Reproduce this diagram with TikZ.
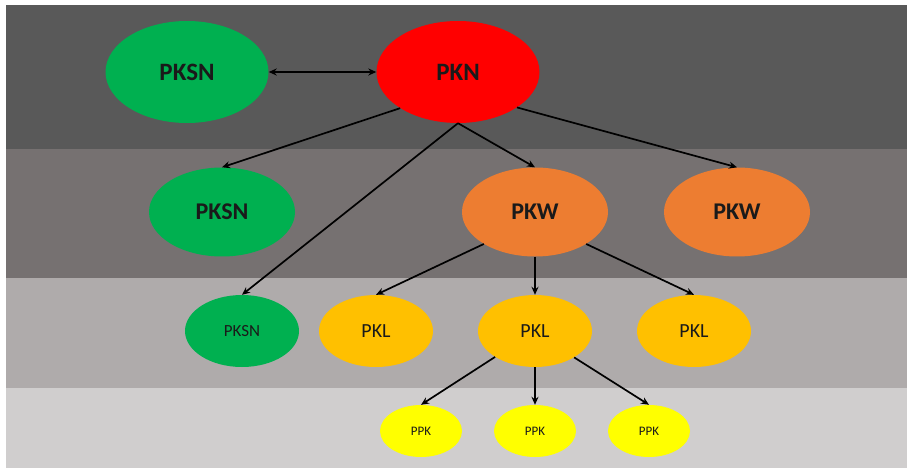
\documentclass[tikz,border=0pt]{standalone}
\usepackage{fontspec}
\setmainfont{Carlito}
\usetikzlibrary{shapes.geometric,arrows.meta}
\definecolor{bandA}{HTML}{595959}
\definecolor{bandB}{HTML}{767171}
\definecolor{bandC}{HTML}{AFABAB}
\definecolor{bandD}{HTML}{D0CECE}
\definecolor{cgreen}{HTML}{00B050}
\definecolor{cred}{HTML}{FF0000}
\definecolor{corange}{HTML}{ED7D31}
\definecolor{cgold}{HTML}{FFC000}
\definecolor{cyellow}{HTML}{FFFF00}
\definecolor{ctext}{HTML}{1A1A1A}
\tikzset{
  oval/.style={ellipse, inner sep=0pt, text=ctext, font=\bfseries},
  big/.style={oval, minimum width=163pt, minimum height=102pt, font=\bfseries\fontsize{25}{28}\selectfont},
  mid/.style={oval, minimum width=146pt, minimum height=89pt, font=\bfseries\fontsize{24}{27}\selectfont},
  sml/.style={oval, minimum width=114pt, minimum height=72pt, font=\fontsize{20}{23}\selectfont},
  tiny/.style={oval, minimum width=82pt, minimum height=52pt, font=\fontsize{13}{15}\selectfont},
  tip/.style={Stealth[length=8pt,width=7pt]},
  conn/.style={draw=black, line width=1.7pt, -{Stealth[length=8pt,width=7pt]}},
  biconn/.style={draw=black, line width=1.7pt, {Stealth[length=8pt,width=7pt]}-{Stealth[length=8pt,width=7pt]}},
}
\begin{document}
\begin{tikzpicture}[x=1pt,y=-1pt]
\useasboundingbox[fill=white] (0,0) rectangle (907,470);
\fill[bandA] (6,5) rectangle (907,149);
\fill[bandB] (6,149) rectangle (907,278);
\fill[bandC] (6,278) rectangle (907,388);
\fill[bandD] (6,388) rectangle (907,468);

\node[big, fill=cgreen] (pksnA) at (187,72) {PKSN};
\node[big, fill=cred] (pkn) at (458,72) {PKN};

\node[mid, fill=cgreen] (pksnB) at (222,212) {PKSN};
\node[mid, fill=corange] (pkwA) at (535,212) {PKW};
\node[mid, fill=corange] (pkwB) at (737,212) {PKW};

\node[sml, fill=cgreen, font=\fontsize{17}{20}\selectfont] (pksnC) at (242,331) {PKSN};
\node[sml, fill=cgold] (pklA) at (376,331) {PKL};
\node[sml, fill=cgold] (pklB) at (535,331) {PKL};
\node[sml, fill=cgold] (pklC) at (694,331) {PKL};

\node[tiny, fill=cyellow] (ppkA) at (421,431) {PPK};
\node[tiny, fill=cyellow] (ppkB) at (535,431) {PPK};
\node[tiny, fill=cyellow] (ppkC) at (649,431) {PPK};

\draw[biconn] (pksnA) -- (pkn);
\draw[conn] (pkn.212) -- (pksnB.north);
\draw[conn] (pkn.south) -- (pksnC.north);
\draw[conn] (pkn.south) -- (pkwA.north);
\draw[conn] (pkn.329) -- (pkwB.north);
\draw[conn] (pkwA.212) -- (pklA.north);
\draw[conn] (pkwA.south) -- (pklB.north);
\draw[conn] (pkwA.328) -- (pklC.north);
\draw[conn] (pklB.213) -- (ppkA.north);
\draw[conn] (pklB.south) -- (ppkB.north);
\draw[conn] (pklB.326) -- (ppkC.north);
\end{tikzpicture}
\end{document}
